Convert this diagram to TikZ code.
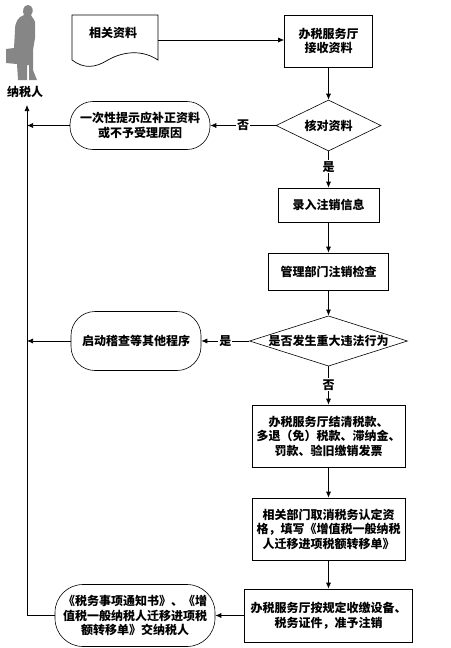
\documentclass[tikz,border=0pt]{standalone}
\usepackage{fontspec}
\setmainfont{Noto Sans CJK SC}
\usetikzlibrary{arrows.meta,shapes.geometric}
\tikzset{
  lbl/.style={font=\fontsize{12pt}{14.5pt}\selectfont\bfseries, align=center, inner sep=0pt},
  boxnode/.style={draw, line width=0.7pt, lbl},
  roundnode/.style={draw, line width=0.6pt, lbl},
  decision/.style={draw, diamond, inner sep=0pt, line width=0.6pt, lbl},
  flowline/.style={line width=0.7pt, -{Latex[length=6pt,width=5pt]}}
}
\begin{document}
\begin{tikzpicture}[x=1pt, y=-1pt, line width=0.7pt]
  \useasboundingbox (0,0) rectangle (450,648);
  % 纳税人
  \fill[gray!95] (28,5) .. controls (23,5) and (22,12) .. (24,15) .. controls (18,17) and (15,22) .. (15,30) -- (14,48) -- (6,49) -- (6,63) -- (17,64) -- (18,80) -- (27,80) -- (27,65) -- (29,65) -- (29,80) -- (37,80) -- (33,70) -- (33,50) -- (35,38) -- (35,22) .. controls (34,18) and (31,17) .. (31,15) .. controls (34,12) and (33,5) .. (28,5) -- cycle;
  \node[lbl] (payer) at (25,92) {纳税人};
  % 相关资料
  \draw (72,15) -- (158,15) -- (158,60) .. controls (140,48) and (120,53) .. (108,60) .. controls (95,68) and (84,69) .. (72,60) -- cycle;
  \coordinate (docout) at (158,40);
  \node[lbl] (doc) at (113,33) {相关资料};
  % 方框
  \node[boxnode, minimum width=88pt, minimum height=52pt] (recv) at (328.5,41) {办税服务厅\\接收资料};
  \node[decision, aspect=2.05, minimum width=105pt, minimum height=51pt] (check) at (328.5,125.5) {核对资料};
  \node[roundnode, rounded corners=23pt, minimum width=140pt, minimum height=48pt] (notice) at (140,125.5) {一次性提示应补正资料\\或不予受理原因};
  \node[boxnode, minimum width=101pt, minimum height=34pt] (entry) at (328.5,205) {录入注销信息};
  \node[boxnode, minimum width=120pt, minimum height=37pt] (inspect) at (328.5,271.5) {管理部门注销检查};
  \node[decision, aspect=3.1, minimum width=158pt, minimum height=50pt] (illegal) at (328.5,341) {是否发生重大违法行为};
  \node[roundnode, rounded corners=24pt, minimum width=130pt, minimum height=59pt] (audit) at (136,341) {启动稽查等其他程序};
  \node[boxnode, minimum width=153pt, minimum height=62pt] (settle) at (328.5,436) {办税服务厅结清税款、\\多退（免）税款、滞纳金、\\罚款、验旧缴销发票};
  \node[boxnode, minimum width=153pt, minimum height=62pt] (cancel) at (328.5,529) {相关部门取消税务认定资\\格，填写《增值税一般纳税\\人迁移进项税额转移单》};
  \node[boxnode, minimum width=168pt, minimum height=53pt] (collect) at (328.5,615.5) {办税服务厅按规定收缴设备、\\税务证件，准予注销};
  \node[roundnode, rounded corners=28pt, minimum width=160pt, minimum height=62pt] (final) at (135,615.5) {《税务事项通知书》、《增\\值税一般纳税人迁移进项税\\额转移单》交纳税人};
  % 连线
  \coordinate (trunk) at (27,615.5);
  \coordinate (top) at (27,105);
  \draw[flowline] (docout) -- (recv.west |- docout);
  \draw[flowline] (recv) -- (check);
  \draw[flowline] (check) -- node[lbl, fill=white, inner xsep=1pt] (no1) {否} (notice);
  \draw[flowline] (notice) -- (trunk |- notice);
  \draw[flowline] (check) -- node[lbl, fill=white, inner ysep=1pt, pos=0.43] (yes1) {是} (entry);
  \draw[flowline] (entry) -- (inspect);
  \draw[flowline] (inspect) -- (illegal);
  \draw[flowline] (illegal) -- node[lbl, fill=white, inner xsep=1pt] (yes2) {是} (audit);
  \draw[flowline] (audit) -- (trunk |- audit);
  \draw[flowline] (illegal) -- node[lbl, fill=white, inner ysep=1pt, pos=0.48] (no2) {否} (settle);
  \draw[flowline] (settle) -- (cancel);
  \draw[flowline] (cancel) -- (collect);
  \draw[flowline] (collect) -- (final);
  \draw[flowline] (final) -- (trunk) -- (top);
\end{tikzpicture}
\end{document}
